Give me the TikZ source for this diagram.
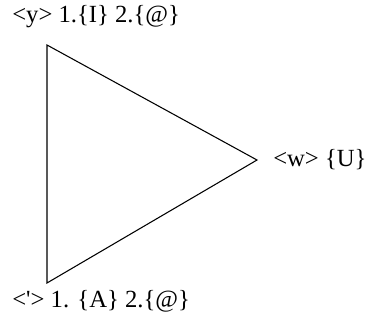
\documentclass[tikz,border=0pt]{standalone}
\usepackage{fontspec}
\setmainfont{Liberation Serif}
\begin{document}
\begin{tikzpicture}[x=0.75pt,y=-0.75pt,
  lbl/.style={inner sep=0pt,anchor=west,font=\fontsize{18.5}{20}\selectfont},
  edge/.style={draw=black,line width=0.8pt}]
\useasboundingbox (0,0) rectangle (367,320);
\coordinate (t) at (47,45);
\coordinate (b) at (47,283);
\coordinate (r) at (257,160);
\draw[edge] (t) -- (r) -- (b) -- cycle;
\node[lbl] (lt) at (12,17) {<y> 1.\{I\} 2.\{@\}};
\node[lbl] (lb) at (12,301) {<\textquotesingle> 1. \{A\} 2.\{@\}};
\node[lbl] (lr) at (273,160) {<w> \{U\}};
\end{tikzpicture}
\end{document}
